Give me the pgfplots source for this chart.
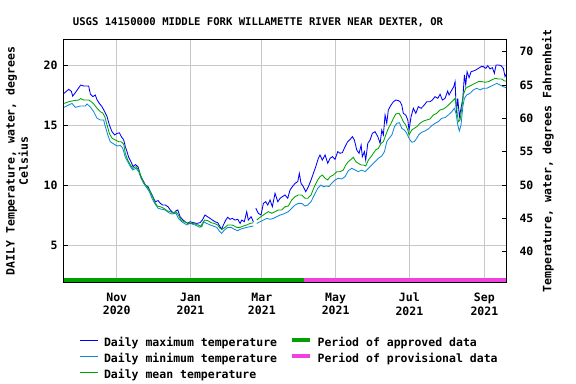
\documentclass[border=0pt]{standalone}
\usepackage{fontspec}
\setmainfont{DejaVu Sans Mono}
\usepackage{pgfplots}
\pgfplotsset{compat=1.18}
\definecolor{cmax}{RGB}{0,0,250}
\definecolor{cmin}{RGB}{16,136,220}
\definecolor{cmean}{RGB}{0,165,0}
\definecolor{capp}{RGB}{0,160,0}
\definecolor{cprov}{RGB}{240,64,224}
\definecolor{cgrid}{RGB}{200,200,200}
\newcommand{\tf}{\fontsize{11.5}{13.3}\selectfont\bfseries}
\begin{document}
\begin{tikzpicture}
\begin{axis}[
  name=main,
  scale only axis, width=442pt, height=243.4pt,
  xmin=-12.6, xmax=352.9, ymin=1.86, ymax=22.14,
  unbounded coords=jump,
  axis line style={line width=1pt},
  xtick={31,92,151,212,273,335},
  xticklabels={{Nov\\2020},{Jan\\2021},{Mar\\2021},{May\\2021},{Jul\\2021},{Sep\\2021}},
  xticklabel style={align=center, font=\tf, yshift=-7pt},
  ytick={5,10,15,20},
  yticklabel style={font=\tf, xshift=-3pt},
  /pgf/number format/assume math mode=true,
  xtick pos=bottom, ytick pos=left,
  tick align=inside, major tick length=4pt,
  tick style={black, line width=0.8pt},
  grid=major, grid style={cgrid, line width=0.9pt},
  title={USGS 14150000 MIDDLE FORK WILLAMETTE RIVER NEAR DEXTER, OR},
  title style={font=\fontsize{10.6}{12}\selectfont\bfseries, at={(axis description cs:0.4389,1.0464)}, anchor=center},
  ylabel={DAILY Temperature, water, degrees\\Celsius},
  ylabel style={font=\tf, align=center, at={(axis description cs:-0.1063,0.5)}, anchor=center},
  legend columns=2,
  legend cell align=left,
  legend style={at={(axis description cs:0.0339,-0.2268)}, anchor=north west, draw=none, fill=none,
    inner sep=0pt, font=\tf,
    nodes={inner sep=0pt, text height=8.5pt, text depth=3pt},
    row sep=4.5pt,
    /tikz/column 1/.style={column sep=6pt},
    /tikz/column 2/.style={column sep=12.5pt},
    /tikz/column 3/.style={column sep=6pt}},
  legend image code/.code={\draw[#1] (0pt,3.5pt) -- (18pt,3.5pt);},
]
\addplot[cmax, line width=0.85pt] coordinates {
(-12.5,17.64)(-8.7,17.97)(-6.5,17.8)(-5.4,17.4)(-3.2,17.7)(1.2,18.33)(3.7,18.25)(7.8,18.25)(9.2,17.58)(11.2,17.36)(13.3,17.5)(14.7,17.1)(16.6,16.8)(18.8,16.53)(21.1,16.1)(23.0,15.7)(24.9,15.0)(27.1,14.44)(29.3,14.17)(31.2,14.3)(33.2,14.35)(34.8,14.03)(36.8,13.75)(38.1,13.2)(39.5,12.78)(40.9,12.3)(42.8,11.94)(44.5,11.53)(46.4,11.7)(48.6,11.53)(50.5,10.83)(52.5,10.42)(54.7,10.0)(56.9,9.86)(58.8,9.44)(60.8,9.03)(62.9,8.61)(65.2,8.7)(67.1,8.47)(69.0,8.33)(71.2,8.33)(73.4,8.19)(75.3,7.92)(78.1,7.64)(80.0,7.85)
(81.5,7.92)(83.4,7.36)(85.3,7.14)(87.5,6.94)(89.7,6.8)(91.6,6.94)(94.4,6.86)(97.2,6.8)(99.9,6.86)(101.8,7.08)(104.0,7.5)(106.0,7.36)(108.2,7.22)(110.1,7.08)(112.3,6.94)(114.5,6.86)(116.4,6.53)(117.8,6.31)(119.2,6.67)(121.2,7.08)(122.8,7.31)(124.7,7.14)(126.6,7.22)(128.8,7.08)(131.1,7.14)(133.0,6.8)(134.4,7.08)(136.5,6.94)(138.5,7.78)(139.8,7.08)(142.1,7.36)(144.0,6.94)(145.0,nan)(146.0,8.06)(148.1,7.64)(150.3,7.5)(152.3,8.47)(154.2,8.61)(155.9,8.33)(157.8,8.75)(159.7,8.19)(161.9,9.31)(164.2,8.61)(166.1,8.89)(168.0,9.03)
(170.2,9.17)(172.4,8.89)(174.3,9.58)(176.2,9.86)(178.5,10.14)(180.7,10.28)(182.0,10.97)(183.4,10.14)(185.3,9.86)(187.3,9.44)(189.5,9.86)(191.7,10.42)(193.6,10.97)(195.6,11.53)(197.7,12.22)(199.1,12.5)(201.0,12.08)(203.3,12.5)(205.5,11.81)(207.4,12.22)(209.3,12.36)(211.5,12.14)(213.8,12.78)(215.7,12.64)(217.6,12.7)(219.8,13.19)(222.0,13.61)(224.0,13.8)(225.9,14.03)(227.5,13.75)(229.5,12.92)(231.4,12.64)(233.1,13.33)(234.1,12.36)(235.8,12.78)(236.9,12.08)(238.6,13.47)(240.5,13.75)(242.4,14.31)(244.6,14.44)(246.9,14.03)(248.8,13.47)(250.2,14.58)(251.5,14.17)(252.9,15.83)(254.3,15.14)(255.6,16.25)(257.9,16.67)(259.8,16.94)(261.8,17.08)(263.9,17.03)
(265.3,16.94)(266.7,16.67)(268.0,15.97)(270.0,15.83)(271.7,15.42)(272.7,14.58)(274.4,15.69)(276.3,16.39)(278.3,15.97)(280.4,16.53)(282.7,16.39)(285.4,16.67)(287.4,16.94)(290.1,16.94)(292.0,17.08)(294.2,17.36)(296.5,17.22)(298.4,17.56)(300.3,17.08)(302.5,17.22)(304.7,17.83)(305.8,17.5)(308.1,17.92)(309.7,18.19)(310.8,18.61)(311.9,15.97)(313.0,17.22)(314.4,15.69)(315.7,16.39)(317.2,17.22)(318.5,19.17)(319.6,18.33)(320.7,19.44)(322.4,18.94)(324.0,19.44)(325.9,19.5)(327.9,19.58)(330.1,19.72)(332.3,19.86)(334.2,19.86)(336.2,19.72)(337.8,19.94)(339.7,19.67)(341.6,19.78)(343.3,19.31)(344.7,20.0)(346.6,20.0)(348.8,19.94)(350.7,19.72)(352.1,19.03)(352.9,19.2)
};
\addlegendentry{Daily maximum temperature}
\addplot[capp, line width=4pt] coordinates {(-12.6,2.08)(185.7,2.08)};
\addlegendentry{Period of approved data}
\addplot[cmin, line width=0.85pt] coordinates {
(-12.5,16.47)(-8.7,16.67)(-6.0,16.8)(-3.2,16.47)(0.9,16.58)(5.0,16.58)(6.4,16.75)(9.2,16.5)(12.0,16.1)(14.7,15.56)(17.5,15.42)(20.2,15.42)(21.6,14.86)(23.6,14.17)(25.7,13.6)(28.5,13.42)(31.3,13.25)(34.0,13.3)(36.0,13.06)(38.1,12.3)(40.1,11.94)(42.3,11.53)(44.2,11.25)(47.0,11.39)(49.2,11.1)(51.1,10.56)(53.3,10.14)(56.1,9.72)(58.0,9.44)(60.2,8.89)(62.4,8.47)(65.2,8.06)(68.5,7.97)(71.2,7.92)(74.0,7.69)(76.7,7.58)(80.0,7.64)
(82.0,7.22)(84.8,6.94)(88.9,6.67)(91.6,6.8)(95.8,6.67)(99.9,6.47)(102.6,6.94)(105.4,6.8)(108.2,6.67)(110.9,6.58)(113.7,6.47)(115.6,6.19)(117.8,5.97)(120.0,6.25)(122.8,6.47)(125.5,6.47)(128.3,6.31)(131.1,6.19)(133.0,6.31)(135.7,6.39)(138.5,6.47)(141.3,6.53)(144.0,6.58)(145.0,nan)(146.8,6.8)(149.5,6.94)(152.3,7.08)(155.1,7.22)(157.8,7.14)(160.5,7.22)(163.3,7.36)(166.1,7.5)(168.8,7.58)
(170.2,7.64)(172.9,7.78)(175.7,8.06)(178.5,8.33)(181.2,8.47)(184.0,8.47)(186.7,8.25)(189.0,8.33)(191.7,8.61)(194.4,9.17)(197.2,9.72)(199.9,10.0)(201.8,9.86)(204.6,9.92)(206.5,9.86)(208.7,10.14)(211.5,10.42)(214.2,10.56)(217.0,10.5)(219.8,10.69)(222.5,11.19)(225.3,11.39)(228.1,11.25)(230.8,11.11)(233.6,11.25)(236.4,11.11)(239.1,11.39)(241.9,11.67)(244.6,11.94)(247.4,12.22)(250.2,12.42)(252.4,12.78)(254.3,13.61)(256.3,13.89)(258.5,14.17)(260.7,14.86)(262.6,15.14)(264.8,15.19)
(266.7,14.72)(268.9,14.58)(270.8,14.31)(272.7,13.89)(275.0,13.56)(277.1,13.61)(279.1,13.89)(281.0,14.22)(283.2,14.39)(285.9,14.5)(288.7,14.67)(291.5,14.94)(294.2,15.14)(297.0,15.28)(299.8,15.56)(302.5,15.61)(305.2,15.83)(308.1,16.11)(310.2,16.39)(311.6,15.97)(313.0,15.0)(314.3,14.5)(315.7,15.0)(317.2,16.53)(318.5,17.22)(320.4,17.5)(323.2,17.64)(325.9,17.92)(328.7,18.06)(331.5,17.92)(334.2,18.06)(337.0,18.06)(339.7,18.19)(342.5,18.33)(345.3,18.47)(348.0,18.33)(350.7,18.19)(352.9,18.11)
};
\addlegendentry{Daily minimum temperature}
\addplot[cprov, line width=4pt] coordinates {(185.7,2.08)(352.9,2.08)};
\addlegendentry{Period of provisional data}
\addplot[cmean, line width=0.85pt] coordinates {
(-12.5,16.8)(-8.7,16.94)(-4.5,17.03)(-0.4,17.08)(1.2,17.2)(3.7,17.08)(7.9,17.08)(10.0,16.94)(12.0,16.75)(14.7,16.4)(17.5,16.1)(19.4,16.0)(21.1,15.7)(23.0,15.0)(24.9,14.3)(27.1,13.9)(29.9,13.75)(32.7,13.6)(34.8,13.6)(36.8,13.4)(38.1,12.64)(40.1,12.08)(42.3,11.67)(44.2,11.39)(47.0,11.53)(49.2,11.25)(51.1,10.69)(53.3,10.19)(56.1,9.86)(58.0,9.58)(60.2,9.17)(62.4,8.61)(64.3,8.25)(67.1,8.19)(69.9,8.06)(72.6,7.86)(75.3,7.78)(78.1,7.64)(80.0,7.78)
(82.0,7.5)(84.2,7.08)(86.9,6.94)(90.2,6.8)(94.4,6.8)(98.5,6.67)(101.3,6.53)(103.5,7.08)(106.3,7.03)(109.0,6.86)(111.7,6.8)(114.5,6.67)(116.4,6.39)(118.3,6.31)(120.6,6.47)(122.8,6.67)(126.1,6.67)(128.3,6.58)(130.2,6.47)(133.0,6.47)(135.7,6.58)(138.5,6.67)(141.3,6.8)(144.0,6.86)(145.0,nan)(146.8,7.08)(149.5,7.31)(152.3,7.5)(154.2,7.64)(156.4,7.78)(159.2,7.64)(161.9,7.78)(164.7,7.92)(167.5,7.92)
(170.2,8.19)(172.9,8.25)(175.7,8.75)(178.5,9.03)(181.2,9.17)(184.0,9.17)(186.7,8.89)(189.0,8.89)(191.7,9.17)(194.4,9.86)(197.2,10.42)(199.1,10.69)(201.0,10.83)(203.3,10.56)(205.5,10.42)(207.4,10.69)(210.1,10.83)(213.0,11.11)(215.7,11.11)(218.4,11.25)(220.4,11.67)(222.5,11.94)(224.8,12.14)(226.7,12.31)(228.7,11.94)(230.8,11.81)(233.0,11.67)(235.0,11.67)(236.9,11.58)(239.1,12.08)(241.3,12.36)(243.2,12.64)(245.2,12.92)(247.4,13.06)(249.6,13.47)(251.5,13.61)(253.5,14.17)(255.6,14.72)(257.9,15.14)(259.8,15.56)(261.8,15.92)(264.5,15.97)
(266.1,15.69)(268.0,15.28)(270.0,15.0)(271.7,14.58)(272.7,14.17)(275.0,14.58)(277.1,14.72)(279.1,14.86)(281.8,15.14)(284.6,15.33)(287.4,15.42)(290.1,15.5)(292.8,15.83)(295.6,15.97)(298.4,16.25)(301.1,16.33)(303.9,16.53)(306.7,16.8)(309.4,17.08)(310.8,17.22)(312.2,16.25)(313.5,15.28)(314.9,15.42)(316.3,16.39)(317.6,17.5)(319.6,18.06)(321.8,18.19)(324.6,18.33)(327.3,18.47)(330.1,18.61)(332.9,18.61)(335.6,18.56)(338.3,18.61)(341.1,18.75)(343.9,18.89)(346.6,18.83)(349.4,18.83)(351.5,18.67)(352.9,18.67)
};
\addlegendentry{Daily mean temperature}
\end{axis}
\begin{axis}[
  at={(main.south west)}, anchor=south west,
  scale only axis, width=442pt, height=243.4pt,
  xmin=-12.6, xmax=352.9, ymin=35.35, ymax=71.85,
  axis x line=none, axis y line*=right,
  axis line style={line width=1pt},
  ytick={40,45,50,55,60,65,70},
  yticklabel style={font=\tf, xshift=10pt},
  /pgf/number format/assume math mode=true,
  tick align=inside, major tick length=4pt,
  tick style={black, line width=0.8pt},
  ylabel={Temperature, water, degrees Fahrenheit},
  ylabel style={font=\tf, at={(axis description cs:1.095,0.5)}, anchor=center, rotate=0},
]
\addplot[draw=none] coordinates {(0,50)};
\end{axis}
\pgfresetboundingbox
\path ([shift={(-64pt,-101.3pt)}]main.south west) rectangle ([shift={(70pt,39.3pt)}]main.north east);
\end{tikzpicture}
\end{document}
